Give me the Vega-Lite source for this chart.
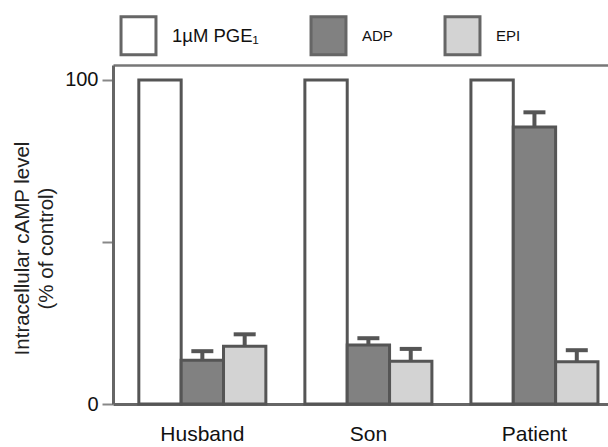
{
  "$schema": "https://vega.github.io/schema/vega-lite/v6.json",
  "autosize": {"type": "none"},
  "width": 495,
  "height": 339,
  "padding": {"left": 113, "top": 65, "right": 0, "bottom": 43},
  "background": "white",
  "config": {
    "font": "Liberation Sans",
    "view": {"stroke": null}
  },
  "data": {
    "values": [
      {"subject": "Husband", "treatment": "1µM PGE₁", "value": 100, "upper": null},
      {"subject": "Husband", "treatment": "ADP", "value": 13.5, "upper": 16.3},
      {"subject": "Husband", "treatment": "EPI", "value": 17.8, "upper": 21.5},
      {"subject": "Son", "treatment": "1µM PGE₁", "value": 100, "upper": null},
      {"subject": "Son", "treatment": "ADP", "value": 18.2, "upper": 20.3},
      {"subject": "Son", "treatment": "EPI", "value": 13.2, "upper": 17},
      {"subject": "Patient", "treatment": "1µM PGE₁", "value": 100, "upper": null},
      {"subject": "Patient", "treatment": "ADP", "value": 85.5, "upper": 90},
      {"subject": "Patient", "treatment": "EPI", "value": 13, "upper": 16.6}
    ]
  },
  "encoding": {
    "xOffset": {
      "field": "treatment", "type": "nominal",
      "sort": ["1µM PGE₁", "ADP", "EPI"],
      "scale": {"domain": ["1µM PGE₁", "ADP", "EPI"], "paddingInner": 0, "paddingOuter": 0}
    }
  },
  "resolve": {"axis": {"x": "independent"}},
  "layer": [
    {
      "mark": {"type": "bar", "stroke": "#555", "strokeWidth": 3},
      "encoding": {
        "x": {
          "field": "subject", "type": "nominal",
          "sort": ["Husband", "Son", "Patient"],
          "scale": {"paddingInner": 0.235, "paddingOuter": 0.108, "align": 0.72},
          "axis": {"orient": "bottom", "title": null, "domain": true, "domainColor": "#666", "domainWidth": 3, "ticks": false, "labelAngle": 0, "labelFontSize": 21, "labelColor": "#111", "labelPadding": 19}
        },
        "y": {
          "field": "value", "type": "quantitative",
          "scale": {"domain": [0, 104.6], "nice": false},
          "axis": {
            "values": [0, 50, 100],
            "labelExpr": "datum.value == 50 ? '' : datum.label",
            "grid": false, "domain": true, "domainColor": "#666", "domainWidth": 3,
            "tickColor": "#888", "tickSize": 11, "tickWidth": 2,
            "labelFontSize": 20, "labelColor": "#111", "labelPadding": 4,
            "title": ["Intracellular cAMP level", "(% of control)"],
            "titleFontSize": 20.5, "titleFontWeight": "normal", "titleColor": "#222",
            "titlePadding": 8, "titleLineHeight": 24, "titleY": 183
          }
        },
        "fill": {
          "field": "treatment", "type": "nominal",
          "scale": {"domain": ["1µM PGE₁", "ADP", "EPI"], "range": ["#ffffff", "#818181", "#d3d3d3"]},
          "legend": {
            "title": null,
            "orient": "none",
            "direction": "horizontal",
            "legendX": 5,
            "legendY": -50,
            "padding": 0,
            "columnPadding": 46,
            "symbolType": "M-0.92,-1H0.92V1H-0.92Z",
            "symbolSize": 1444,
            "symbolStrokeColor": "#666",
            "symbolStrokeWidth": 3,
            "labelOffset": 13,
            "labelFontSize": 18.5,
            "labelColor": "#111",
            "encode": {
              "labels": {"update": {"fontSize": {"signal": "datum.value === 'ADP' || datum.value === 'EPI' ? 15 : 18.5"}}},
              "symbols": {"update": {"stroke": {"value": "#666"}, "strokeWidth": {"value": 3}}}
            }
          }
        }
      }
    },
    {
      "transform": [{"filter": "datum.upper != null"}],
      "mark": {"type": "rule", "color": "#555", "strokeWidth": 4},
      "encoding": {
        "x": {"field": "subject", "type": "nominal", "sort": ["Husband", "Son", "Patient"], "axis": null},
        "y": {"field": "value", "type": "quantitative"},
        "y2": {"field": "upper"}
      }
    },
    {
      "transform": [{"filter": "datum.upper != null"}],
      "mark": {"type": "tick", "color": "#555", "thickness": 4, "size": 22, "opacity": 1},
      "encoding": {
        "x": {"field": "subject", "type": "nominal", "sort": ["Husband", "Son", "Patient"],
              "axis": {"orient": "top", "title": null, "labels": false, "ticks": false, "domain": true, "domainColor": "#777", "domainWidth": 2.5}},
        "y": {"field": "upper", "type": "quantitative"}
      }
    }
  ]
}
